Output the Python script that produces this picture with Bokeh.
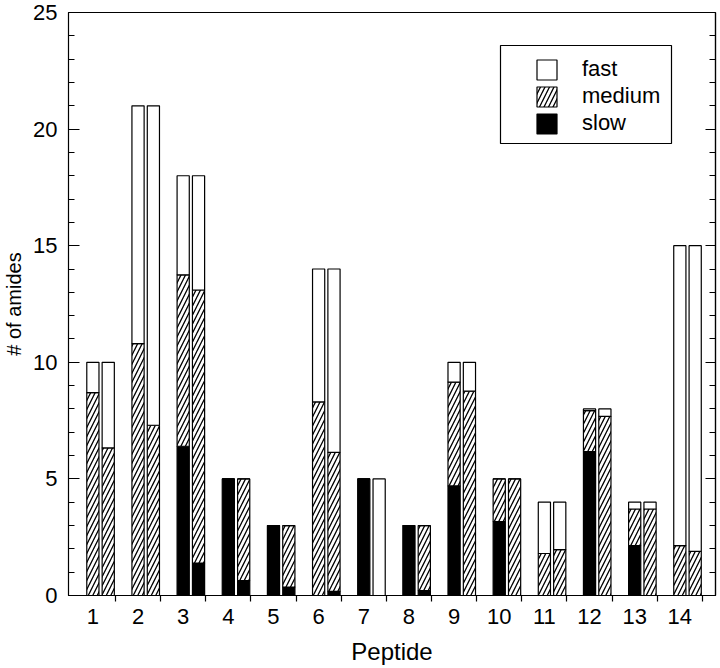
from bokeh.plotting import figure
from bokeh.models import (FixedTicker, SingleIntervalTicker, LinearAxis, Range1d,
                          Legend, LegendItem, BoxAnnotation)
from bokeh.embed import file_html
from bokeh.resources import INLINE

peptides = list(range(1, 15))
tick_labels = [str(i) for i in peptides]

# first bar of each pair
slow_a = [0, 0, 6.4, 5.0, 3.0, 0, 5.0, 3.0, 4.7, 3.17, 0, 6.17, 2.14, 0]
medium_a = [8.7, 10.8, 7.35, 0, 0, 8.3, 0, 0, 4.45, 1.83, 1.8, 1.76, 1.57, 2.14]
fast_a = [1.3, 10.2, 4.25, 0, 0, 5.7, 0, 0, 0.85, 0, 2.2, 0.07, 0.29, 12.86]

# second bar of each pair
slow_b = [0, 0, 1.39, 0.64, 0.36, 0.18, 0, 0.21, 0, 0, 0, 0, 0, 0]
medium_b = [6.33, 7.3, 11.71, 4.36, 2.64, 5.96, 0, 2.79, 8.76, 5.0, 1.97, 7.68, 3.71, 1.89]
fast_b = [3.67, 13.7, 4.9, 0, 0, 7.86, 5.0, 0, 1.24, 0, 2.03, 0.32, 0.29, 13.11]

y_major = [5, 10, 15, 20]
y_minor = [v for v in range(1, 25) if v % 5 != 0]

FONT = "Liberation Sans"
BAR_W = 0.27
OFFSET_B = 0.34

p = figure(width=720, height=668, x_range=Range1d(0.46, 14.79), y_range=Range1d(0, 25),
           output_backend="svg", toolbar_location=None,
           min_border_left=0, min_border_right=5, min_border_top=12, min_border_bottom=73)
p.xgrid.visible = False
p.ygrid.visible = False
p.outline_line_color = "black"
p.outline_line_width = 1
p.background_fill_color = "white"


def draw_pair(xs, slow, medium, fast):
    s_top = slow
    m_top = [a + b for a, b in zip(slow, medium)]
    f_top = [a + b for a, b in zip(m_top, fast)]
    common = dict(width=BAR_W, line_color="black", line_width=1.2)
    r_slow = p.vbar(x=xs, bottom=[0] * len(xs), top=s_top, fill_color="black", **common)
    r_med = p.vbar(x=xs, bottom=s_top, top=m_top, fill_color="white",
                   hatch_pattern="/", hatch_scale=9, hatch_weight=1.3, hatch_color="black",
                   **common)
    r_fast = p.vbar(x=xs, bottom=m_top, top=f_top, fill_color="white", **common)
    return r_slow, r_med, r_fast


rs_a = draw_pair(peptides, slow_a, medium_a, fast_a)
rs_b = draw_pair([x + OFFSET_B for x in peptides], slow_b, medium_b, fast_b)

# x axis
xa = p.xaxis[0]
xa.ticker = FixedTicker(ticks=peptides, minor_ticks=[x + 0.5 for x in peptides])
xa.major_label_overrides = {x: lab for x, lab in zip(peptides, tick_labels)}
xa.major_tick_in = 0
xa.major_tick_out = 0
xa.minor_tick_in = 0
xa.minor_tick_out = 6
xa.major_label_standoff = 7
xa.axis_label = "Peptide"
xa.axis_label_standoff = 11

# y axis
ya = p.yaxis[0]
ya.ticker = SingleIntervalTicker(interval=5, num_minor_ticks=5)
ya.major_tick_in = 11
ya.major_tick_out = 0
ya.minor_tick_in = 6
ya.minor_tick_out = 0
ya.major_label_standoff = 11
ya.axis_label = "# of amides"
ya.axis_label_standoff = 5

for ax in (xa, ya):
    ax.axis_line_color = "black"
    ax.axis_line_width = 1.2
    ax.major_tick_line_color = "black"
    ax.minor_tick_line_color = "black"
    ax.major_tick_line_width = 1.2
    ax.minor_tick_line_width = 1.2
    ax.major_label_text_font = FONT
    ax.major_label_text_font_size = "22px"
    ax.major_label_text_color = "black"
    ax.axis_label_text_font = FONT
    ax.axis_label_text_font_style = "normal"
    ax.axis_label_text_color = "black"
xa.axis_label_text_font_size = "24px"
ya.axis_label_text_font_size = "20px"

# right side: ticks only (no labels), two tick lengths
ra_minor = LinearAxis(ticker=FixedTicker(ticks=[], minor_ticks=y_minor),
                      major_tick_in=0, major_tick_out=0, minor_tick_in=6, minor_tick_out=0,
                      major_label_standoff=0, axis_line_color="black", axis_line_width=1.2,
                      minor_tick_line_width=1.2)
ra_major = LinearAxis(ticker=FixedTicker(ticks=[], minor_ticks=y_major),
                      major_tick_in=0, major_tick_out=0, minor_tick_in=10, minor_tick_out=0,
                      major_label_standoff=0, axis_line_color="black", axis_line_width=1.2,
                      minor_tick_line_width=1.2)
p.add_layout(ra_minor, "right")
p.add_layout(ra_major, "right")

# legend
legend = Legend(items=[LegendItem(label="fast", renderers=[rs_a[2]]),
                       LegendItem(label="medium", renderers=[rs_a[1]]),
                       LegendItem(label="slow", renderers=[rs_a[0]])],
                location=(466, 459), padding=0, spacing=1, margin=0,
                glyph_width=25, glyph_height=25, label_height=25,
                label_standoff=23, label_text_font=FONT, label_text_font_size="22px",
                label_text_color="black", label_text_baseline="middle",
                border_line_alpha=0, background_fill_alpha=0)
p.add_layout(legend)

box = BoxAnnotation(left=432, right=603, bottom=452, top=550,
                    left_units="screen", right_units="screen",
                    top_units="screen", bottom_units="screen",
                    fill_alpha=0, line_color="black", line_width=1.2, line_alpha=1)
p.add_layout(box)

open("out.html", "w").write(file_html(p, INLINE))
